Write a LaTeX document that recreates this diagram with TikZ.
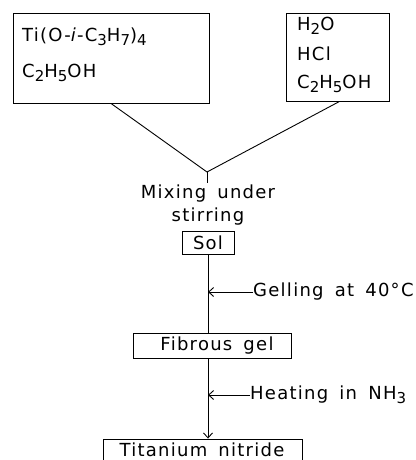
\documentclass[tikz,border=0pt]{standalone}
\usepackage{fontspec}
\setmainfont{DejaVu Sans}[LetterSpace=7,WordSpace=1.6]
\usetikzlibrary{arrows.meta}
\newcommand\chsub[1]{\raisebox{-0.45ex}{\fontsize{15}{15}\selectfont #1}}
\begin{document}
\begin{tikzpicture}[x=1pt,y=-1pt,
  every node/.style={font=\fontsize{18}{22}\selectfont},
  box/.style={draw,line width=0.9pt,rectangle,inner sep=0pt},
  txt/.style={inner sep=0pt},
  conn/.style={line width=0.9pt},
  tip/.style={line width=0.9pt,-{Straight Barb[length=5pt,width=9pt,line width=0.9pt]}}]
\useasboundingbox (0,0) rectangle (415,460);
\begin{scope}
\clip (0,0) rectangle (415,460);
% top boxes
\node[box,minimum width=196pt,minimum height=90pt] (lbox) at (111,58) {};
\node[txt,anchor=west] (l1) at (22,37) {Ti(O-\textit{i}-C\chsub{3}H\chsub{7})\chsub{4}};
\node[txt,anchor=west] (l2) at (22,73) {C\chsub{2}H\chsub{5}OH};
\node[box,minimum width=103pt,minimum height=88pt] (rbox) at (337.5,57) {};
\node[txt,anchor=west] (r1) at (297,26) {H\chsub{2}O};
\node[txt,anchor=west] (r2) at (297,54) {HCl};
\node[txt,anchor=west] (r3) at (297,84) {C\chsub{2}H\chsub{5}OH};
% junction
\coordinate (J) at (207,172);
\coordinate (Js) at (207,183);
\draw[conn] (lbox.south) -- (J);
\draw[conn] ([xshift=2pt]rbox.south) -- (J);
\draw[conn] (J) -- (Js);
\node[txt] (mix) at (208,194) {Mixing under};
\node[txt] (stir) at (208,217) {stirring};
% sol
\node[box,minimum width=52pt,minimum height=23pt] (sol) at (208,242.5) {};
\node[txt] (solt) at (sol.center) {Sol};
% fibrous gel
\node[box,minimum width=158pt,minimum height=25pt] (fib) at (212,345.5) {};
\node[txt] (fibt) at (217,345.5) {Fibrous gel};
\draw[conn] (sol.south) -- (fib.north -| sol.south);
% gelling
\node[txt,anchor=west] (gel) at (253,292) {Gelling at 40°C};
\draw[tip] (gel.west) -- (gel.west -| sol.south);
% titanium nitride
\node[box,minimum width=199pt,minimum height=28pt] (tin) at (202.5,453) {};
\node[txt] (tint) at (202,449.5) {Titanium  nitride};
\draw[tip] (fib.south -| sol.south) -- (tin.north -| sol.south);
% heating
\node[txt,anchor=west] (heat) at (250,395) {Heating in NH\chsub{3}};
\draw[tip] (heat.west) -- (heat.west -| sol.south);
\end{scope}
\end{tikzpicture}
\end{document}
